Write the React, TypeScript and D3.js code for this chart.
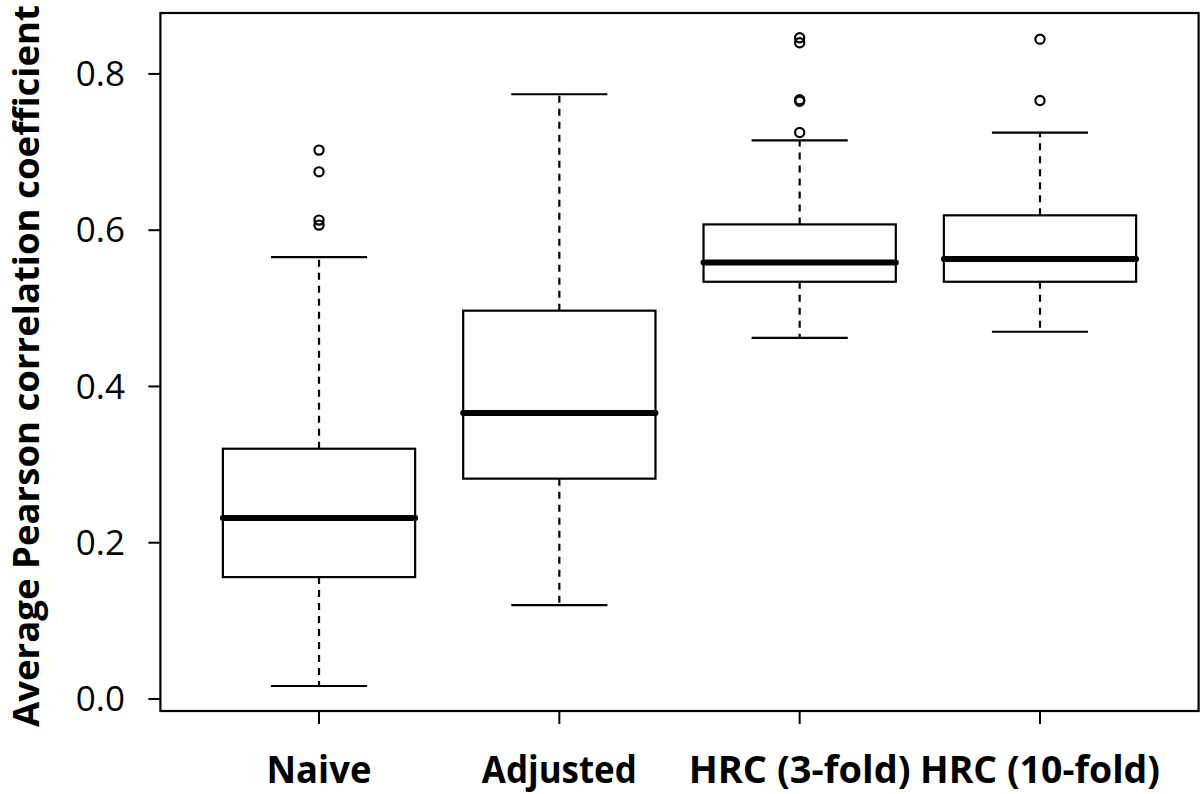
import React from "react";
import * as d3 from "d3";

const categories = ["Naive", "Adjusted", "HRC (3-fold)", "HRC (10-fold)"];
const whiskerLow = [0.0166, 0.12, 0.4623, 0.47];
const q1 = [0.156, 0.282, 0.534, 0.534];
const medians = [0.2316, 0.366, 0.5588, 0.563];
const q3 = [0.3203, 0.497, 0.6074, 0.619];
const whiskerHigh = [0.5656, 0.774, 0.715, 0.725];
const outliers: number[][] = [
  [0.7025, 0.6747, 0.6129, 0.6065],
  [],
  [0.8464, 0.84, 0.767, 0.765, 0.725],
  [0.8445, 0.766],
];
const yTicks = [0, 0.2, 0.4, 0.6, 0.8];
const yTickLabels = ["0.0", "0.2", "0.4", "0.6", "0.8"];
const labelWidths = [105, 155, 222, 240];
const yTitle = "Average Pearson correlation coefficient";

const W = 1200;
const H = 794;
const plot = { left: 160.4, right: 1198.6, top: 13, bottom: 711 };

export default function App() {
  const x = d3
    .scaleLinear()
    .domain([0.34, categories.length + 0.66])
    .range([plot.left, plot.right]);
  const y = d3.scaleLinear().domain([-0.0154, 0.878]).range([plot.bottom, plot.top]);
  const boxHalf = 0.4;
  const capHalf = 0.2;
  const tickFont = "'Open Sans', 'DejaVu Sans', sans-serif";
  const boldFont = "'Open Sans', 'DejaVu Sans', sans-serif";

  return (
    <svg
      width={W}
      height={H}
      viewBox={`0 0 ${W} ${H}`}
      style={{ position: "absolute", left: 0, top: 0, display: "block", background: "#fff" }}
    >
      <rect x={0} y={0} width={W} height={H} fill="#fff" />
      {categories.map((c, i) => {
        const cx = x(i + 1);
        const l = x(i + 1 - boxHalf);
        const r = x(i + 1 + boxHalf);
        return (
          <g key={c}>
            <line x1={cx} x2={cx} y1={y(q3[i])} y2={y(whiskerHigh[i])} stroke="#000" strokeWidth={2.2} strokeDasharray="7 6" />
            <line x1={cx} x2={cx} y1={y(q1[i])} y2={y(whiskerLow[i])} stroke="#000" strokeWidth={2.2} strokeDasharray="7 6" />
            <line x1={x(i + 1 - capHalf)} x2={x(i + 1 + capHalf)} y1={y(whiskerHigh[i])} y2={y(whiskerHigh[i])} stroke="#000" strokeWidth={2.2} />
            <line x1={x(i + 1 - capHalf)} x2={x(i + 1 + capHalf)} y1={y(whiskerLow[i])} y2={y(whiskerLow[i])} stroke="#000" strokeWidth={2.2} />
            <rect x={l} y={y(q3[i])} width={r - l} height={y(q1[i]) - y(q3[i])} fill="#fff" stroke="#000" strokeWidth={2.2} />
            <line x1={l} x2={r} y1={y(medians[i])} y2={y(medians[i])} stroke="#000" strokeWidth={6} strokeLinecap="round" />
            {outliers[i].map((v, j) => (
              <circle key={j} cx={cx} cy={y(v)} r={4.6} fill="none" stroke="#000" strokeWidth={2.2} />
            ))}
          </g>
        );
      })}
      <rect x={plot.left} y={plot.top} width={plot.right - plot.left} height={plot.bottom - plot.top} fill="none" stroke="#000" strokeWidth={2.2} />
      {yTicks.map((t, i) => (
        <g key={t}>
          <line x1={plot.left - 12} x2={plot.left} y1={y(t)} y2={y(t)} stroke="#000" strokeWidth={2} />
          <text x={125} y={y(t)} dy="0.35em" textAnchor="end" fontFamily={tickFont} fontSize={35} fill="#000">
            {yTickLabels[i]}
          </text>
        </g>
      ))}
      {categories.map((c, i) => (
        <g key={c}>
          <line x1={x(i + 1)} x2={x(i + 1)} y1={plot.bottom} y2={plot.bottom + 13} stroke="#000" strokeWidth={2} />
          <text
            x={x(i + 1)}
            y={783}
            textAnchor="middle"
            fontFamily={boldFont}
            fontWeight={700}
            fontSize={37}
            textLength={labelWidths[i]}
            lengthAdjust="spacingAndGlyphs"
            fill="#000"
          >
            {c}
          </text>
        </g>
      ))}
      <text
        transform={`translate(39, 366) rotate(-90)`}
        textAnchor="middle"
        fontFamily={boldFont}
        fontWeight={700}
        fontSize={36}
        textLength={722}
        lengthAdjust="spacingAndGlyphs"
        fill="#000"
      >
        {yTitle}
      </text>
    </svg>
  );
}
